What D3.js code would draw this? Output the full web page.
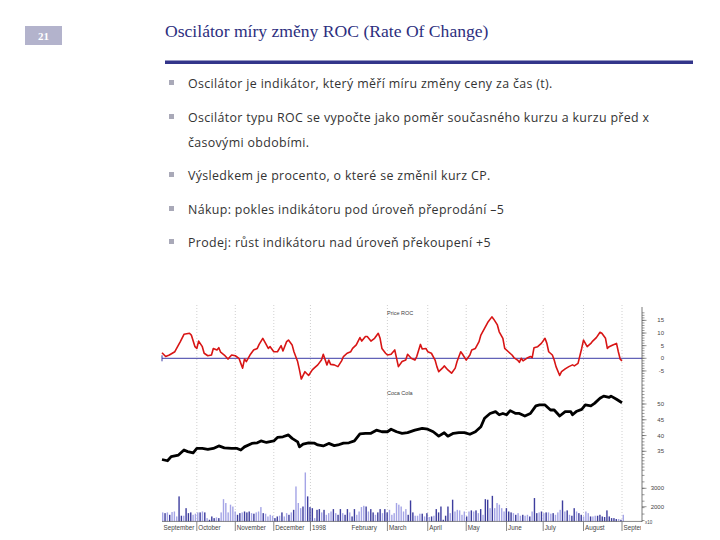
<!DOCTYPE html>
<html><head><meta charset="utf-8">
<script src="https://cdn.jsdelivr.net/npm/d3@7"></script>
<style>body{margin:0;background:#fff}</style>
</head><body><svg id="c" width="720" height="540"></svg>
<script>
const slideNumber = "21";
const title = "Oscilátor míry změny ROC (Rate Of Change)";
const bulletLines = [
  ["Oscilátor je indikátor, který měří míru změny ceny za čas (t)."],
  ["Oscilátor typu ROC se vypočte jako poměr současného kurzu a kurzu před x", "časovými obdobími."],
  ["Výsledkem je procento, o které se změnil kurz CP."],
  ["Nákup: pokles indikátoru pod úroveň přeprodání –5"],
  ["Prodej: růst indikátoru nad úroveň překoupení +5"]
];

const rocDays = [0,2,4,7,10,12,15,16,18,19,20,22,23,25,27,28,30,31,32,34,36,38,40,42,43,44,45,46,48,50,52,53,55,56,58,59,61,63,65,66,68,69,71,72,74,75,76,78,80,82,83,85,87,88,90,91,92,94,96,98,99,101,103,104,106,108,109,111,112,114,116,118,119,120,122,123,125,127,
129,131,133,134,136,138,139,141,142,144,145,147,149,150,151,153,154,156,158,160,161,163,164,166,168,169,171,173,174,176,178,180,181,183,184,186,187,189,191,192,194,195,196,197,199,201,202,203,205,207,209,210,211,213,214,215,217,218,220,222,224,225,227,229,230,232,234,235,237,239,240,242,243,244,246,248,249,250,251];
const rocValues = [2.2,0.7,1.3,2.6,6.6,9.5,9.9,9.2,4.6,3.9,6.8,4.6,2.0,1.0,1.3,3.9,3.3,4.2,2.4,1.3,-0.3,1.3,1.0,0,-2.0,-3.9,-0.3,-1.3,1.3,3.3,3.9,5.5,7.9,6.6,3.9,4.6,2.6,2.6,5.0,2.9,6.6,7.2,5.3,2.6,-1.3,-4.6,-8.2,-5.3,-6.8,-4.6,-3.9,-2.6,-0.7,1.6,-2.6,-0.7,-2.4,-2.6,-3.3,-1.0,0.7,2.0,2.6,3.9,5.3,8.2,6.8,8.6,8.6,6.8,7.9,9.9,7.9,3.9,2.0,1.3,1.6,3.3,
-3.3,-1.3,-0.7,1.6,0,-0.7,0.7,5.5,3.7,3.9,2.6,2.0,-0.7,-3.3,-5.3,-3.9,-3.0,-4.6,-5.9,-3.9,-1.3,2.6,1.6,-0.7,1.3,3.3,3.9,6.6,9.2,11.8,14.5,16.4,15.5,13.2,10.5,7.9,3.9,2.6,1.3,0.3,-0.7,-1.6,0,-1.0,0,0.7,0.3,4.2,4.6,5.9,7.9,5.9,2.6,1.3,-0.7,-3.3,-6.8,-5.3,-4.2,-3.3,-2.6,-3.0,-2.0,3.9,7.2,4.6,5.9,6.8,8.2,10.3,9.9,7.9,3.9,4.6,5.3,5.9,2.6,-0.3,-1.0];

const priceDays = [0,3,5,9,12,14,17,19,22,25,28,31,34,38,41,43,45,49,52,54,57,61,63,66,69,71,74,75,77,80,83,85,88,91,94,96,99,102,105,108,111,114,117,120,123,125,128,131,134,138,142,145,148,151,154,156,159,162,165,168,171,174,176,179,182,184,186,188,190,193,195,198,201,204,206,209,212,214,217,220,223,224,226,229,231,234,236,239,241,244,245,248,251];
const priceValues = [32.4,32.0,33.3,33.8,35.4,34.9,34.5,35.9,35.9,35.6,35.9,36.7,36.1,35.9,35.9,35.4,36.4,37.5,37.7,38.3,37.8,38.3,39.4,39.6,40.2,39.1,38.0,36.4,37.3,37.7,37.6,37.0,36.7,37.5,36.8,37.0,37.6,37.7,38.3,40.5,40.7,40.7,41.7,41.2,41.2,42.0,41.2,40.7,40.9,41.7,42.3,42.0,41.2,39.8,40.9,39.8,40.7,40.9,40.9,40.4,41.2,42.8,45.5,47.0,47.6,46.6,47.0,46.6,47.9,47.0,47.0,46.2,47.0,49.4,49.7,49.7,48.1,48.1,46.2,47.6,47.6,46.6,47.6,48.3,49.7,49.4,50.2,51.8,52.5,52.1,52.5,51.5,50.4];

const volumeValues = [1690,1650,1690,1560,1710,1740,1470,2560,1510,1510,1920,1650,1690,1560,1620,1690,1690,1740,1690,1380,1290,1470,1380,1420,1380,1690,2410,2200,1690,2110,2010,1740,1560,1650,1690,1740,1690,1740,1650,1620,1690,1740,1980,1650,1620,1470,1560,1510,1380,1470,1510,1690,1470,1650,1560,1690,1830,3100,2200,1920,2010,3860,2560,1980,1920,1380,1830,1870,1690,1830,1560,1650,1740,1870,1650,1560,1870,1650,1560,1870,1690,1470,1870,1560,1740,1980,2050,2010,1740,1870,1690,1560,1690,1870,1650,1870,1690,1830,1560,1650,2200,2110,2010,1740,1870,1560,2340,1690,1510,1510,1620,1620,1470,1650,1440,1470,1510,1870,1690,2010,1290,1510,2010,1650,2380,1740,1830,1800,1560,1740,1470,1740,1800,1740,1800,1650,1870,1560,2410,2380,1920,2590,1920,2200,2110,1920,1740,1920,1740,1690,1650,1560,1650,1510,1560,1510,1560,1470,1740,2470,1650,1690,1740,1650,1690,1690,1620,1650,1560,1690,1830,2340,1740,1800,1560,1510,1920,1740,1650,1560,1470,1740,1650,1470,1470,1510,1510,1560,1470,1440,1800,1470,1380,1380,1330,1330,1290,1560];
const volumeDown = [0,1,0,1,0,0,0,1,1,0,1,1,1,0,0,0,1,0,1,0,1,1,1,0,1,0,0,0,0,0,0,0,1,1,0,1,1,1,0,1,0,0,0,1,0,0,0,0,1,1,0,1,0,0,1,0,1,0,0,0,1,0,1,1,1,0,1,1,0,1,0,0,0,1,0,1,1,0,1,1,0,1,1,0,0,0,0,1,0,1,1,0,1,1,0,1,1,0,0,0,0,0,0,0,0,1,1,1,0,0,0,1,0,1,0,1,0,1,1,1,1,1,1,0,1,0,0,0,0,0,1,0,1,0,1,0,1,0,1,1,0,1,0,0,0,0,0,1,1,1,0,1,0,0,1,0,0,1,0,1,1,0,1,0,1,0,0,1,0,0,0,1,0,1,0,1,1,0,1,1,0,0,0,1,0,0,1,1,1,1,1,1,1,1,1,0,1,0];

const monthLabels = ["September","October","November","December","1998","February","March","April","May","June","July","August","September"];
const monthStartDays = [0,19,40,61,81,104,123,145,166,188,208,230,251];
const monthHasGrid = [0,1,1,1,1,0,1,1,1,1,1,1,1];
const rocTicks = [-5,0,5,10,15];
const priceTicks = [35,40,45,50];
const volumeTicks = [2000,3000];

const svg = d3.select("#c");

// header
svg.append("rect").attr("x",25).attr("y",26).attr("width",37).attr("height",19).attr("fill","#b3b3cc");
svg.append("text").attr("x",43.5).attr("y",40).attr("text-anchor","middle")
  .attr("font-family","Liberation Serif").attr("font-weight","bold").attr("font-size",11).attr("fill","#fff").text(slideNumber);
svg.append("text").attr("x",165).attr("y",37).attr("font-family","Liberation Serif")
  .attr("font-size",17.6).attr("fill","#2c2e7e").text(title);
svg.append("rect").attr("x",165).attr("y",60.5).attr("width",528).attr("height",3.5).attr("fill","#33358a");

// bullets
const lineYs = [[88],[122,147],[180],[214],[247]];
bulletLines.forEach((lines,i)=>{
  svg.append("rect").attr("x",169).attr("y",lineYs[i][0]-8).attr("width",5).attr("height",5).attr("fill","#a9a9b8");
  lines.forEach((t,j)=>{
    svg.append("text").attr("x",188).attr("y",lineYs[i][j]).attr("font-family","Open Sans")
      .attr("font-size",12.4).attr("letter-spacing",0.35).attr("fill","#333").text(t);
  });
});

// chart scales
const x = d3.scaleLinear().domain([0,251]).range([162,622]);
const rocY = d3.scaleLinear().domain([0,15]).range([358.3,320.4]);
const priceY = d3.scaleLinear().domain([35,50]).range([451.3,404]);
const volY = d3.scaleLinear().domain([2000,3000]).range([506.7,488.3]);
const volX = d3.scaleBand().domain(d3.range(volumeValues.length)).range([162,624]).paddingInner(0.4);

// grid
monthStartDays.forEach((d,i)=>{
  if(monthHasGrid[i]) svg.append("line").attr("x1",x(d)).attr("x2",x(d)).attr("y1",305).attr("y2",522)
    .attr("stroke","#c4c4c4").attr("stroke-width",0.8).attr("stroke-dasharray","1,2");
});

// pane titles
svg.append("text").attr("x",387).attr("y",315).attr("font-family","Liberation Sans").attr("font-size",5.5).attr("fill","#444").text("Price ROC");
svg.append("text").attr("x",387).attr("y",395).attr("font-family","Liberation Sans").attr("font-size",5.5).attr("fill","#444").text("Coca Cola");

// zero line
svg.append("line").attr("x1",162).attr("x2",642).attr("y1",rocY(0)).attr("y2",rocY(0)).attr("stroke","#3b3ba5").attr("stroke-width",1);
svg.append("line").attr("x1",162).attr("x2",162).attr("y1",rocY(0)-3).attr("y2",rocY(0)+3).attr("stroke","#3b3ba5");

// ROC line
svg.append("path").datum(rocDays.map((d,i)=>[d,rocValues[i]]))
  .attr("d",d3.line().x(d=>x(d[0])).y(d=>rocY(d[1])))
  .attr("fill","none").attr("stroke","#d81515").attr("stroke-width",1.6).attr("stroke-linejoin","round");

// price line
svg.append("path").datum(priceDays.map((d,i)=>[d,priceValues[i]]))
  .attr("d",d3.line().x(d=>x(d[0])).y(d=>priceY(d[1])))
  .attr("fill","none").attr("stroke","#000").attr("stroke-width",2.8).attr("stroke-linejoin","round");

// volume
svg.append("g").selectAll("rect").data(volumeValues).join("rect")
  .attr("x",(d,i)=>volX(i)).attr("width",volX.bandwidth())
  .attr("y",d=>volY(d)).attr("height",d=>volY(1200)-volY(d))
  .attr("fill",(d,i)=>volumeDown[i]?"#3d3d9e":"#a4a4e6");
svg.append("line").attr("x1",162).attr("x2",642).attr("y1",volY(1200)).attr("y2",volY(1200)).attr("stroke","#555").attr("stroke-width",0.7);

// month labels
svg.append("clipPath").attr("id","mclip").append("rect").attr("x",150).attr("y",515).attr("width",491).attr("height",20);
const mg = svg.append("g").attr("clip-path","url(#mclip)");
monthStartDays.forEach((d,i)=>{
  if(monthHasGrid[i]) mg.append("line").attr("x1",x(d)).attr("x2",x(d)).attr("y1",522).attr("y2",531).attr("stroke","#555").attr("stroke-width",0.7);
  mg.append("text").attr("x",x(d)+ (i===5?-1:1.5)).attr("y",529.5).attr("font-family","Liberation Sans").attr("font-size",6.3).attr("fill","#444").text(monthLabels[i]);
});

// right axis
const ax = 642;
svg.append("line").attr("x1",ax).attr("x2",ax).attr("y1",307).attr("y2",522).attr("stroke","#555").attr("stroke-width",0.8);
const ag = svg.append("g");
function ticks(scale, vals, len){
  vals.forEach(v=>ag.append("line").attr("x1",ax).attr("x2",ax+len).attr("y1",scale(v)).attr("y2",scale(v)).attr("stroke","#555").attr("stroke-width",0.6));
}
ticks(rocY, d3.range(-9,19), 2.5);
ticks(rocY, rocTicks, 4.5);
ticks(priceY, d3.range(29,57), 2.5);
ticks(priceY, priceTicks, 4.5);
ticks(volY, d3.range(1250,3900,350), 2.5);
ticks(volY, volumeTicks, 4.5);
function labels(scale, vals){
  vals.forEach(v=>ag.append("text").attr("x",664).attr("y",scale(v)+2).attr("text-anchor","end")
    .attr("font-family","Liberation Sans").attr("font-size",6).attr("fill","#444").text(v));
}
labels(rocY, rocTicks);
labels(priceY, priceTicks);
labels(volY, volumeTicks);
ag.append("text").attr("x",645).attr("y",524).attr("font-family","Liberation Sans").attr("font-size",4.5).attr("fill","#444").text("x10");
</script></body></html>
